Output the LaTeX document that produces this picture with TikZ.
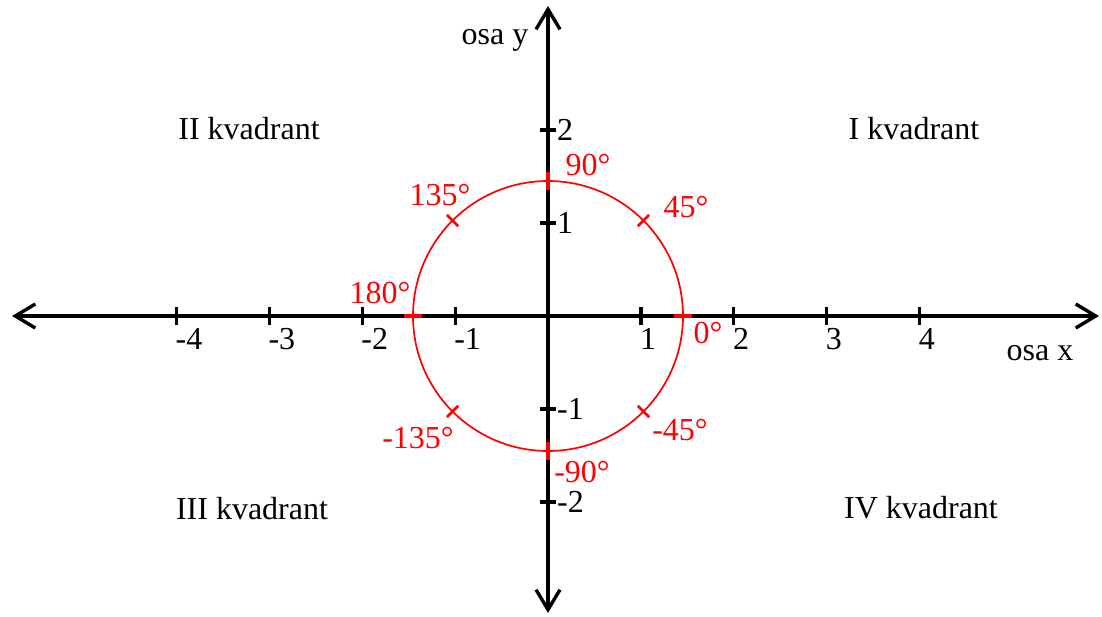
\documentclass[tikz,border=0pt]{standalone}
\usepackage{fontspec}
\setmainfont{Liberation Serif}
\usetikzlibrary{arrows.meta,calc}
\definecolor{myred}{RGB}{255,0,0}
\tikzset{
  axis/.style={line width=3.4pt, black, arrows={Straight Barb[length=20pt,width=24pt,line width=3.4pt]-Straight Barb[length=20pt,width=24pt,line width=3.4pt]}},
  axtick/.style={line width=3.2pt, black},
  circ/.style={line width=1.7pt, myred},
  cardtick/.style={line width=3.6pt, myred},
  diagtick/.style={line width=2.8pt, myred},
  lbl/.style={inner sep=0pt, font=\fontsize{32}{38}\selectfont},
  redlbl/.style={lbl, text=myred, anchor=base},
  quad/.style={lbl, anchor=base},
  xtl/.style={lbl, anchor=base west},
  ytl/.style={lbl, anchor=base west}
}
\begin{document}
\begin{tikzpicture}[x=1pt,y=-1pt]
\useasboundingbox (0,0) rectangle (1102,616);
% coordinates
\coordinate (O) at (548,316);
\coordinate (xl) at (12,316);
\coordinate (xr) at (1099,316);
\coordinate (yt) at (548,6);
\coordinate (yb) at (548,613);
% axes
\draw[axis] (xl) -- (xr);
\draw[axis] (yb) -- (yt);
% x ticks
\foreach \v/\xx in {-4/176.4,-3/269.3,-2/362.2,-1/455.1,1/640.9,2/733.8,3/826.7,4/919.6}{
  \coordinate (xt\v) at (\xx,316);
  \draw[axtick] ([yshift=-9pt]xt\v) -- ([yshift=9pt]xt\v);
  \node[xtl] (xtl\v) at ([xshift=-1pt,yshift=-33pt]xt\v) {\v};
}
% y ticks
\foreach \v/\yy in {2/130,1/223,-1/409,-2/502}{
  \coordinate (yt\v) at (548,\yy);
  \draw[axtick] ([xshift=-8pt]yt\v) -- ([xshift=8pt]yt\v);
  \node[ytl] (ytl\v) at ([xshift=9pt,yshift=-10pt]yt\v) {\v};
}
% circle
\draw[circ] (O) circle[radius=135];
% cardinal red ticks
\foreach \a in {0,90,180,270}{
  \draw[cardtick] ($(O)+(\a:126)$) -- ($(O)+(\a:144)$);
}
% diagonal red ticks
\foreach \a in {45,135,225,315}{
  \draw[diagtick] ($(O)+(\a:127)$) -- ($(O)+(\a:143)$);
}
% red labels
\node[redlbl] (l90)  at (588,175) {90°};
\node[redlbl] (l45)  at (686,217) {45°};
\node[redlbl] (l135) at (440,205) {135°};
\node[redlbl] (l180) at (380,303) {180°};
\node[redlbl] (l0)   at (708,343) {0°};
\node[redlbl] (lm135) at (418,448) {-135°};
\node[redlbl] (lm45) at (680,440) {-45°};
\node[redlbl] (lm90) at (582,482) {-90°};
% axis names
\node[quad] (oy) at (495,44) {osa y};
\node[quad] (ox) at (1040,360) {osa x};
% quadrants
\node[quad] (q1) at (914,139) {I kvadrant};
\node[quad] (q2) at (249,139) {II kvadrant};
\node[quad] (q3) at (252,519) {III kvadrant};
\node[quad] (q4) at (921,518) {IV kvadrant};
\end{tikzpicture}
\end{document}
